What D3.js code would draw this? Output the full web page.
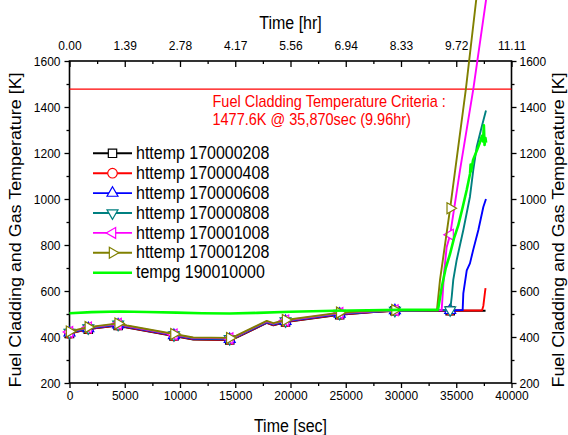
<!DOCTYPE html>
<html>
<head>
<meta charset="utf-8">
<script src="https://cdn.jsdelivr.net/npm/d3@7"></script>
<style>
  html, body { margin: 0; padding: 0; background: #fff; }
  svg text { font-family: "Liberation Sans", Arial, Helvetica, sans-serif; fill: #000; }
</style>
</head>
<body>
<svg id="chart" width="568" height="435"></svg>
<script>
// ---- data: time [sec] vs temperature [K] ----
const ht208 = [[0,415],[1700,434],[4400,450],[5200,441],[9450,404],[11200,389],[14500,387],[15100,397],[17850,461],[18450,451],[19550,465],[24450,497],[27500,508],[29450,514],[33000,514],[34450,514],[37650,514]];
const ht408 = [[0,416],[1700,435],[4400,451],[5200,442],[9450,405],[11200,390],[14500,388],[15100,398],[17850,462],[18450,452],[19550,466],[24450,498],[27500,509],[29450,514],[33000,515],[34450,515],[37330,515],[37450,535],[37600,595],[37650,612]];
const ht608 = [[0,418],[1700,437],[4400,453],[5200,444],[9450,407],[11200,392],[14500,390],[15100,400],[17850,464],[18450,454],[19550,468],[24450,500],[27500,510],[29450,515],[33000,516],[34450,516],[35580,517],[35640,590],[35950,690],[36240,720],[36540,780],[37000,865],[37450,965],[37690,1000]];
const ht808 = [[0,420],[1700,439],[4400,455],[5200,446],[9450,409],[11200,394],[14500,392],[15100,402],[17850,466],[18450,456],[19550,470],[24450,502],[27500,511],[29450,515],[33000,517],[34450,517],[34590,575],[34730,648],[35040,735],[35640,865],[36240,1010],[36540,1126],[36850,1226],[37300,1313],[37690,1385]];
const ht1008 = [[0,422],[1700,441],[4400,457],[5200,448],[9450,411],[11200,396],[14500,394],[15100,404],[17850,468],[18450,458],[19550,472],[24450,504],[27500,512],[29450,516],[33000,517],[33680,517],[33900,680],[34130,790],[34450,845],[35340,1126],[36543,1478],[37740,1880]];
const ht1208 = [[0,424],[1700,443],[4400,459],[5200,450],[9450,413],[11200,398],[14500,396],[15100,406],[17850,470],[18450,460],[19550,474],[24450,506],[27500,514],[29450,517],[33000,517],[33255,518],[33530,648],[34450,960],[35870,1477.6],[36840,1880]];
const tempg = [[0,503],[2000,508],[4500,511],[7000,509],[9700,506],[12000,503],[14500,502],[17000,505],[20000,510],[24000,514],[27000,516],[30000,518],[33350,518],[33700,620],[34050,700],[34430,760],[34800,830],[35180,885],[35560,960],[35950,1040],[36250,1110],[36300,1150],[36350,1120],[36520,1170],[36900,1215],[37100,1240],[37330,1275],[37420,1250],[37500,1320],[37560,1235],[37650,1265],[37700,1245]];

const seriesNames = ["httemp 170000208","httemp 170000408","httemp 170000608","httemp 170000808","httemp 170001008","httemp 170001208","tempg 190010000"];
const seriesData = [ht208, ht408, ht608, ht808, ht1008, ht1208, tempg];
const seriesColors = ["#000000","#ff0000","#0000ff","#008080","#ff00ff","#808000","#00ff00"];
const seriesSymbols = ["square","circle","up","down","left","right",null];
const markerTimes = [0,1700,4400,9450,14500,19550,24450,29450,34450];

const secTicks = [0,5000,10000,15000,20000,25000,30000,35000,40000];
const secMinor = [2500,7500,12500,17500,22500,27500,32500,37500];
const hrLabels = ["0.00","1.39","2.78","4.17","5.56","6.94","8.33","9.72","11.11"];
const tempTicks = [200,400,600,800,1000,1200,1400,1600];
const tempMinor = [300,500,700,900,1100,1300,1500];

const criteriaTemp = 1477.6;
const criteriaText = ["Fuel Cladding Temperature Criteria :", "1477.6K @ 35,870sec (9.96hr)"];

// ---- layout ----
const svg = d3.select("#chart");
const P = { left: 69.5, right: 511.5, top: 61, bottom: 383 };
const SY = 1.1; // text is drawn slightly tall
const x = d3.scaleLinear().domain([0, 40000]).range([P.left, P.right]);
const y = d3.scaleLinear().domain([200, 1600]).range([P.bottom, P.top]);

function stretchTicks(g) {
  g.selectAll(".tick text").attr("transform", `scale(1,${SY})`);
  g.select(".domain").remove();
  g.selectAll(".tick line").attr("stroke", "#000").attr("stroke-width", 1.3);
}

// bottom axis
const gB = svg.append("g").attr("transform", `translate(0,${P.bottom})`)
  .call(d3.axisBottom(x).tickValues(secTicks).tickSize(5).tickPadding(2).tickFormat(d3.format("d")));
gB.attr("font-size", 12); stretchTicks(gB);
const gBm = svg.append("g").attr("transform", `translate(0,${P.bottom})`)
  .call(d3.axisBottom(x).tickValues(secMinor).tickSize(3).tickFormat(""));
stretchTicks(gBm);

// top axis (hours), ticks point inward
const gT = svg.append("g").attr("transform", `translate(0,${P.top})`)
  .call(d3.axisTop(x).tickValues(secTicks).tickSize(-6).tickPadding(10).tickFormat((d, i) => hrLabels[i]));
gT.attr("font-size", 12); stretchTicks(gT);
const gTm = svg.append("g").attr("transform", `translate(0,${P.top})`)
  .call(d3.axisTop(x).tickValues(secMinor).tickSize(-3).tickFormat(""));
stretchTicks(gTm);

// left axis
const gL = svg.append("g").attr("transform", `translate(${P.left},0)`)
  .call(d3.axisLeft(y).tickValues(tempTicks).tickSize(5).tickPadding(4).tickFormat(d3.format("d")));
gL.attr("font-size", 12); stretchTicks(gL);
const gLm = svg.append("g").attr("transform", `translate(${P.left},0)`)
  .call(d3.axisLeft(y).tickValues(tempMinor).tickSize(3).tickFormat(""));
stretchTicks(gLm);

// right axis
const gR = svg.append("g").attr("transform", `translate(${P.right},0)`)
  .call(d3.axisRight(y).tickValues(tempTicks).tickSize(5).tickPadding(3).tickFormat(d3.format("d")));
gR.attr("font-size", 12); stretchTicks(gR);
const gRm = svg.append("g").attr("transform", `translate(${P.right},0)`)
  .call(d3.axisRight(y).tickValues(tempMinor).tickSize(3).tickFormat(""));
stretchTicks(gRm);

// frame
svg.append("rect")
  .attr("x", P.left).attr("y", P.top)
  .attr("width", P.right - P.left).attr("height", P.bottom - P.top)
  .attr("fill", "none").attr("stroke", "#000").attr("stroke-width", 1.6);

// axis titles
function htext(str, tx, ty, size, anchor, color) {
  return svg.append("text")
    .attr("transform", `translate(${tx},${ty}) scale(1,${SY})`)
    .attr("text-anchor", anchor).attr("font-size", size)
    .style("fill", color || "#000").text(str);
}
function vtext(str, tx, ty, size) {
  return svg.append("text")
    .attr("transform", `translate(${tx},${ty}) rotate(-90) scale(1.12,1)`)
    .attr("text-anchor", "middle").attr("font-size", size).text(str);
}
htext("Time [hr]", (P.left + P.right) / 2, 29, 16, "middle");
htext("Time [sec]", (P.left + P.right) / 2, 432, 16, "middle");
vtext("Fuel Cladding and Gas Temperature [K]", 20.5, 230, 16);
vtext("Fuel Cladding and Gas Temperature [K]", 564, 230, 16);

// criteria line and note
svg.append("line")
  .attr("x1", x(0)).attr("x2", x(40000))
  .attr("y1", y(criteriaTemp)).attr("y2", y(criteriaTemp))
  .attr("stroke", "#ff0000").attr("stroke-width", 1.4);
htext(criteriaText[0], 212.5, 106.5, 14.5, "start", "#ff0000");
htext(criteriaText[1], 212.5, 125, 14.5, "start", "#ff0000");

// marker shapes
function markerPath(kind) {
  if (kind === "square") return { d: d3.symbol(d3.symbolSquare, 70)(), rot: 0 };
  if (kind === "circle") return { d: d3.symbol(d3.symbolCircle, 72)(), rot: 0 };
  const tri = d3.symbol(d3.symbolTriangle, 52)();
  const rot = { up: 0, down: 180, left: -90, right: 90 }[kind];
  return { d: tri, rot: rot };
}
function drawMarker(g, kind, cx, cy, color) {
  const m = markerPath(kind);
  g.append("path")
    .attr("d", m.d)
    .attr("transform", `translate(${cx},${cy}) rotate(${m.rot})`)
    .attr("fill", "#fff").attr("stroke", color).attr("stroke-width", 1.2);
}

// series lines and markers
const line = d3.line().x(d => x(d[0])).y(d => y(d[1]));
const gData = svg.append("g");
seriesData.forEach((data, i) => {
  const g = gData.append("g");
  g.append("path")
    .attr("d", line(data))
    .attr("fill", "none")
    .attr("stroke", seriesColors[i])
    .attr("stroke-width", seriesSymbols[i] ? 1.9 : 2.6)
    .attr("stroke-linejoin", "round");
  if (seriesSymbols[i]) {
    data.filter(d => markerTimes.includes(d[0]))
      .forEach(d => drawMarker(g, seriesSymbols[i], x(d[0]), y(d[1]), seriesColors[i]));
  }
});

// legend
const legend = svg.append("g");
const legX0 = 93, legX1 = 132, legY0 = 153.3, legDy = 19.9;
seriesNames.forEach((name, i) => {
  const ly = legY0 + i * legDy;
  legend.append("line")
    .attr("x1", legX0).attr("x2", legX1).attr("y1", ly).attr("y2", ly)
    .attr("stroke", seriesColors[i]).attr("stroke-width", seriesSymbols[i] ? 1.9 : 2.6);
  if (seriesSymbols[i]) drawMarker(legend, seriesSymbols[i], (legX0 + legX1) / 2, ly, seriesColors[i]);
  legend.append("text")
    .attr("transform", `translate(136,${ly + 5.6}) scale(1,${SY})`)
    .attr("font-size", 16).text(name);
});
</script>
</body>
</html>
